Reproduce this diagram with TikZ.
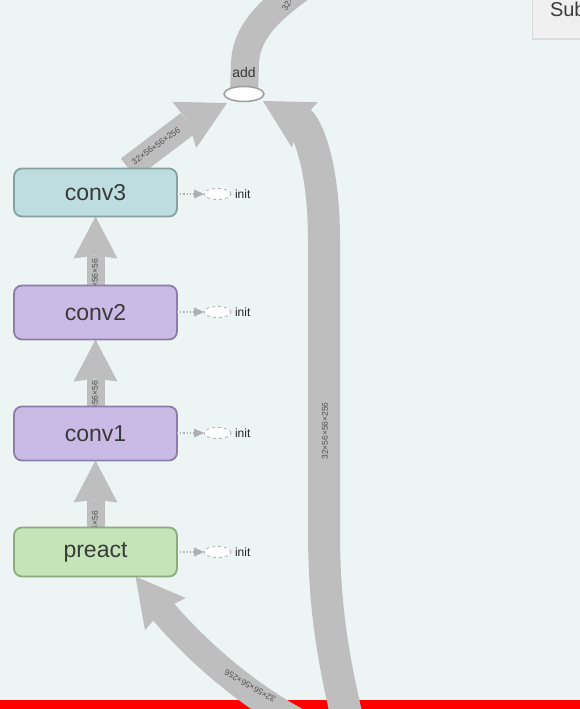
\documentclass[tikz,border=0pt]{standalone}
\usepackage{fontspec}
\setmainfont{Liberation Sans}
\usetikzlibrary{arrows.meta,calc,shapes.geometric}
\pgfdeclarelayer{bglayer}
\pgfdeclarelayer{edgelayer}
\pgfsetlayers{bglayer,edgelayer,main}
\definecolor{bgcol}{RGB}{237,244,244}
\definecolor{edgegray}{RGB}{190,190,190}
\definecolor{txtcol}{RGB}{58,58,58}
\definecolor{lbl}{RGB}{80,80,80}
\definecolor{tealfill}{RGB}{189,221,225}
\definecolor{tealdraw}{RGB}{135,160,160}
\definecolor{purpfill}{RGB}{201,187,230}
\definecolor{purpdraw}{RGB}{140,125,170}
\definecolor{greenfill}{RGB}{197,228,184}
\definecolor{greendraw}{RGB}{140,170,125}
\definecolor{subfill}{RGB}{240,240,240}
\definecolor{initgray}{RGB}{175,175,175}
\begin{document}
\begin{tikzpicture}[x=1pt,y=-1pt,
  every node/.style={inner sep=0pt,outer sep=0pt},
  opnode/.style={draw,line width=1.8pt,rounded corners=8pt,minimum width=163pt,
    font=\fontsize{23}{25}\selectfont,text=txtcol},
  bigedge/.style={draw=edgegray,line width=#1,
    -{Stealth[length=48pt,width=52pt,inset=5pt,line width=0pt]}},
  smalledge/.style={draw=edgegray,line width=18pt,
    -{Stealth[length=42pt,width=44pt,inset=3pt,line width=0pt]}},
  topedge/.style={draw=edgegray,line width=#1},
  elabel/.style={font=\fontsize{8.5}{9}\selectfont,text=lbl},
  initell/.style={ellipse,draw=initgray,dashed,line width=0.8pt,fill=white,
    minimum width=27pt,minimum height=11pt},
  inittext/.style={anchor=west,font=\fontsize{12}{12}\selectfont,text=black!85},
  initedge/.style={draw=initgray,dotted,line width=1.2pt,
    -{Triangle[length=10pt,width=9pt,line width=0pt]}},
]
\useasboundingbox (0,0) rectangle (580,709);
\clip (0,0) rectangle (580,709);
\begin{pgfonlayer}{bglayer}
  \fill[bgcol] (0,0) rectangle (580,709);
  \fill[red] (0,700) rectangle (580,709);
\end{pgfonlayer}

% nodes
\node[opnode,fill=tealfill,draw=tealdraw,minimum height=48pt] (conv3) at (95.5,192.5) {conv3};
\node[opnode,fill=purpfill,draw=purpdraw,minimum height=54pt] (conv2) at (95.5,312.5) {conv2};
\node[opnode,fill=purpfill,draw=purpdraw,minimum height=54pt] (conv1) at (95.5,433.5) {conv1};
\node[opnode,fill=greenfill,draw=greendraw,minimum height=49pt] (preact) at (95.5,552) {preact};

\node[ellipse,draw=black!38,line width=1.5pt,fill=white,minimum width=40pt,minimum height=15pt] (add) at (244,94) {};
\node[font=\fontsize{14}{14}\selectfont,text=txtcol] (addlbl) at (244,72) {add};

% init nodes
\node[initell] (i3) at (217.5,194) {};
\node[inittext] (i3t) at (235,194) {init};
\node[initell] (i2) at (217.5,312) {};
\node[inittext] (i2t) at (235,312) {init};
\node[initell] (i1) at (217.5,433) {};
\node[inittext] (i1t) at (235,433) {init};
\node[initell] (i0) at (217.5,552) {};
\node[inittext] (i0t) at (235,552) {init};
\draw[initedge] (conv3.east |- i3) -- (i3.west);
\draw[initedge] (conv2.east |- i2) -- (i2.west);
\draw[initedge] (conv1.east |- i1) -- (i1.west);
\draw[initedge] (preact.east |- i0) -- (i0.west);

% Sub box
\fill[black!14] (532,-8) rectangle (590,40);
\fill[subfill] (533,-8) rectangle (590,38);
\node[anchor=base west,font=\fontsize{20}{20}\selectfont,text=txtcol] (subt) at (550,17) {Sub};

% edges
\coordinate (addL) at ($(add.center)+(-17,9)$);
\coordinate (addR) at ($(add.center)+(19,7)$);
\coordinate (c3out) at ($(conv3.north)+(33,0)$);
\coordinate (inR) at (348,722);
\coordinate (inL) at (314,730);
\coordinate (preIn) at ($(preact.south)+(40,0)$);
\coordinate (topOut) at (306,-16);
\begin{pgfonlayer}{edgelayer}
  \draw[smalledge] (preact.north) -- (conv1.south);
  \draw[smalledge] (conv1.north) -- (conv2.south);
  \draw[smalledge] (conv2.north) -- (conv3.south);
  \draw[bigedge=25pt] (c3out) .. controls (150,152) and (190,122) .. (addL);
  \draw[bigedge=32pt] (inR) .. controls (331,650) and (324,600) .. (324,530)
     -- (324,240) .. controls (324,160) and (305,125) .. (addR);
  \draw[bigedge=27pt] (inL) .. controls (230,690) and (170,620) .. (preIn);
  \draw[topedge=28pt] (add.center) -- (245,62) .. controls (247,33) and (266,12) .. (topOut);
  \node[elabel,rotate=90] (l1) at (325,431) {32×56×56×256};
  \node[elabel,rotate=36] (l2) at (156,146) {32×56×56×256};
  \node[elabel,rotate=150] (l3) at (250,686) {32×56×56×256};
  \node[elabel,rotate=58,anchor=west] (l4) at (284,10) {32×56×56×256};
  \node[elabel,rotate=90,anchor=east] (l5) at (95,259) {32×64×56×56};
  \node[elabel,rotate=90,anchor=east] (l6) at (95,381) {32×64×56×56};
  \node[elabel,rotate=90,anchor=east] (l7) at (95,511) {32×64×56×56};
\end{pgfonlayer}
\end{tikzpicture}
\end{document}
